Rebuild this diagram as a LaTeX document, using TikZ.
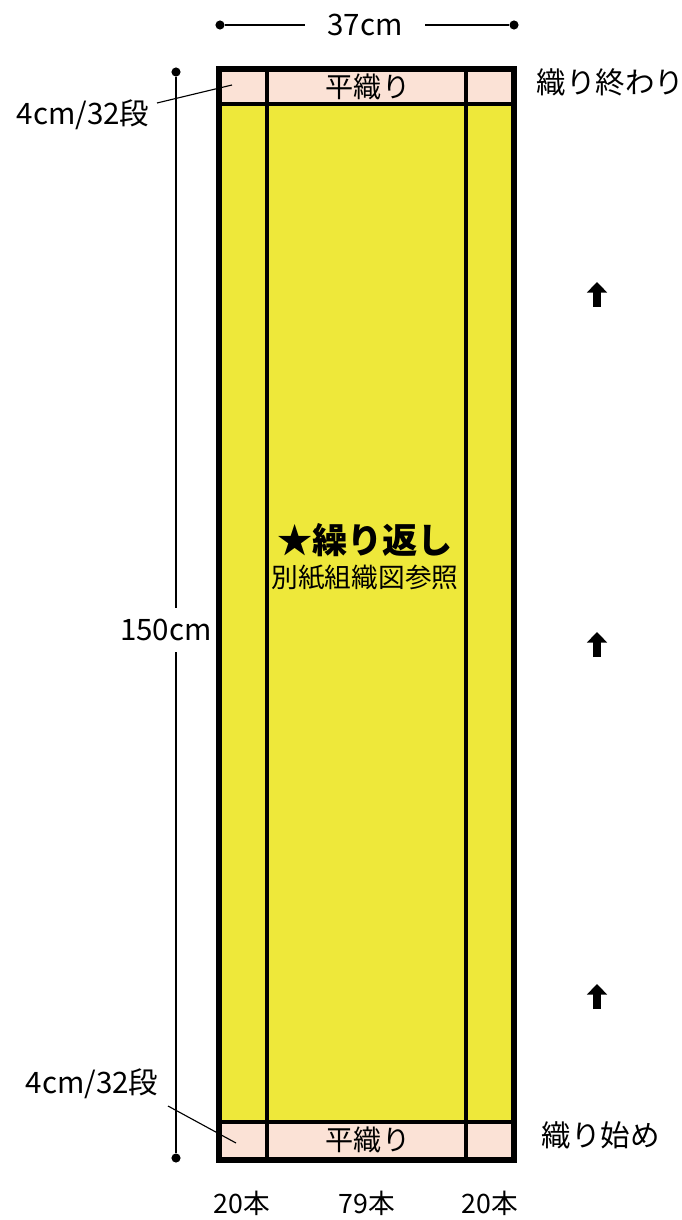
\documentclass[tikz,border=0pt]{standalone}
\usepackage{fontspec}
\setmainfont{Noto Sans CJK JP}
\usetikzlibrary{positioning,arrows.meta}
\definecolor{weaveyellow}{RGB}{238,232,58}
\definecolor{weavepink}{RGB}{251,226,214}
\tikzset{
  lbl/.style={inner sep=1pt,font=\fontsize{19}{21}\selectfont},
  biglbl/.style={inner sep=1pt,font=\fontsize{21}{24}\selectfont},
  dimline/.style={line width=0.8pt},
  dot/.style={circle,fill=black,inner sep=0pt,minimum size=6.5pt},
  upar/.style={line width=5pt,-{Triangle[length=7.5pt,width=14pt]}},
}
\begin{document}
\begin{tikzpicture}[x=0.025cm,y=-0.025cm]
\useasboundingbox (0,0) rectangle (682,1220);
% cloth
\fill[weaveyellow] (219,69) rectangle (514,1160);
\fill[weavepink] (219,69) rectangle (514,104);
\fill[weavepink] (219,1122) rectangle (514,1160);
\draw[line width=2.2pt] (267,69) -- (267,1160);
\draw[line width=2.2pt] (466,69) -- (466,1160);
\draw[line width=2.2pt] (219,104) -- (514,104);
\draw[line width=2.2pt] (219,1122) -- (514,1122);
\draw[line width=4.4pt] (219,69) rectangle (514,1160);
\node[lbl, font=\fontsize{20}{22}\selectfont] (topband) at (368,87) {平織り};
\node[lbl, font=\fontsize{20}{22}\selectfont] (botband) at (368,1140) {平織り};
\node[font=\fontsize{25}{28}\selectfont\bfseries] (rep) at (365,540) {★繰り返し};
\node[lbl, below=1pt of rep] (ref) {別紙組織図参照};
% width
\node[dot] (wl) at (220,25) {};
\node[dot] (wr) at (514,25) {};
\node[biglbl, inner xsep=16pt] (w) at (365,25) {37cm};
\draw[dimline] (wl) -- (w.west);
\draw[dimline] (w.east) -- (wr);
% length
\node[dot] (ht) at (176,72) {};
\node[dot] (hb) at (176,1158) {};
\node[biglbl, inner ysep=8pt] (h) at (166,630) {150cm};
\draw[dimline] (ht) -- (ht |- h.north);
\draw[dimline] (hb |- h.south) -- (hb);
% bands
\node[biglbl] (topnote) at (83,115) {4cm/32段};
\coordinate (topin) at (232,85);
\draw[dimline] (157,103) -- (topin);
\node[biglbl] (botnote) at (92,1084) {4cm/32段};
\coordinate (botin) at (236,1143);
\draw[dimline] (168,1106) -- (botin);
\node[biglbl, anchor=west] (endw) at (535,82) {織り終わり};
\node[biglbl, anchor=west] (startw) at (540,1135) {織り始め};
% direction
\foreach \y in {307,657,1009}
  \draw[upar] (597,\y) -- (597,\y-25);
% ends
\node[lbl] (c1) at (242,1203) {20本};
\node[lbl] (c2) at (367,1203) {79本};
\node[lbl] (c3) at (490,1203) {20本};
\end{tikzpicture}
\end{document}
